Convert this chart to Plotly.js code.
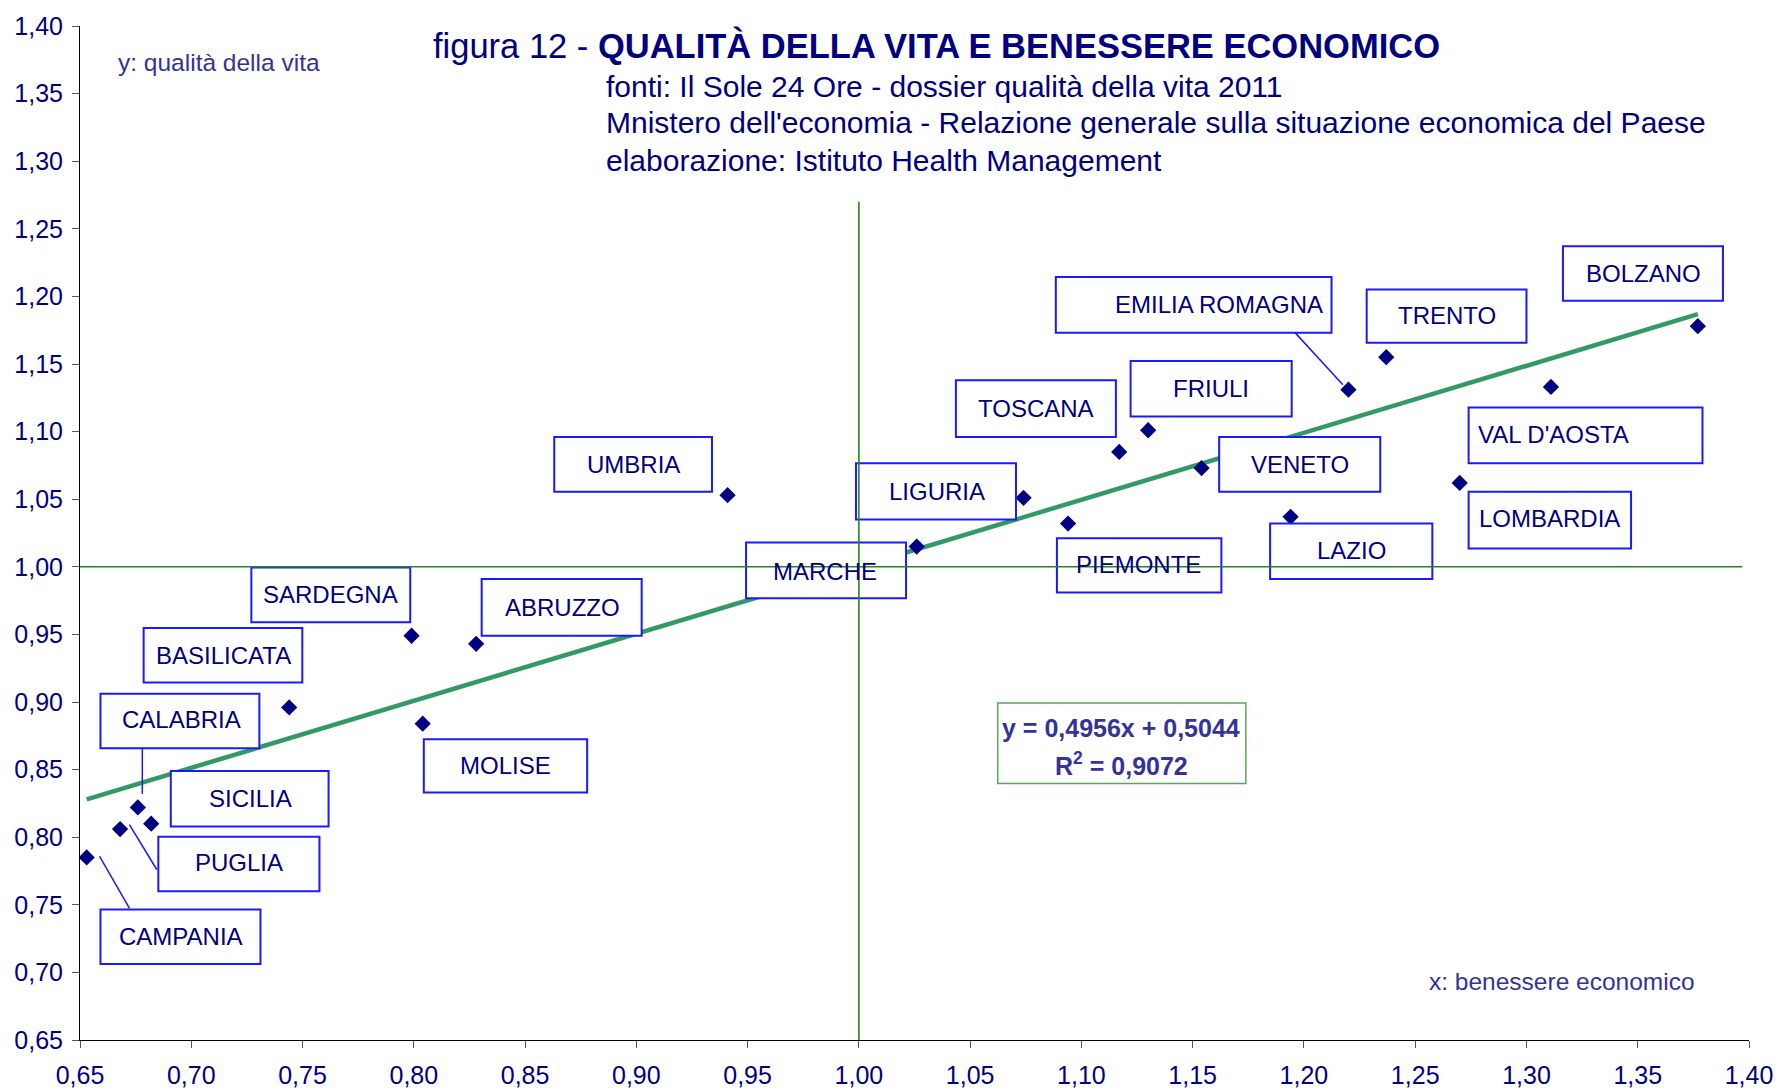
<!DOCTYPE html>
<html><head><meta charset="utf-8">
<script src="https://cdn.plot.ly/plotly-3.0.1.min.js"></script>
<style>html,body{margin:0;padding:0;background:#fff}#chart{width:1779px;height:1089px}</style>
</head><body><div id="chart"></div>
<script>
// ---------- data ----------
const regions = ["CAMPANIA","PUGLIA","CALABRIA","SICILIA","BASILICATA","SARDEGNA","MOLISE","ABRUZZO","UMBRIA","MARCHE","LIGURIA","PIEMONTE","TOSCANA","FRIULI","VENETO","LAZIO","EMILIA ROMAGNA","TRENTO","LOMBARDIA","VAL D'AOSTA","BOLZANO"];
const benessere = [0.653,0.668,0.676,0.682,0.744,0.799,0.804,0.828,0.941,1.026,1.074,1.094,1.117,1.130,1.154,1.194,1.220,1.237,1.270,1.311,1.377];
const qualita   = [0.785,0.806,0.822,0.810,0.896,0.949,0.884,0.943,1.053,1.015,1.051,1.032,1.085,1.101,1.073,1.037,1.131,1.155,1.062,1.133,1.178];
const trendSlope = 0.4956;
const trendIntercept = 0.5044;
const trendR2 = "0,9072";
const tickValues = [0.65,0.70,0.75,0.80,0.85,0.90,0.95,1.00,1.05,1.10,1.15,1.20,1.25,1.30,1.35,1.40];
const tickLabels = ["0,65","0,70","0,75","0,80","0,85","0,90","0,95","1,00","1,05","1,10","1,15","1,20","1,25","1,30","1,35","1,40"];
const referenceValue = 1.00;

// ---------- label layout (data units) ----------
const labelLayout = {
  "CAMPANIA":      {box:[0.6592,0.7311,0.7062,0.7465], text:[0.6954,0.7264]},
  "PUGLIA":        {box:[0.6852,0.7576,0.7600,0.8003], text:[0.7214,0.7810]},
  "CALABRIA":      {box:[0.6592,0.7306,0.8658,0.9061], text:[0.6954,0.8868]},
  "SICILIA":       {box:[0.6908,0.7617,0.8079,0.8490], text:[0.7265,0.8289]},
  "BASILICATA":    {box:[0.6786,0.7499,0.9145,0.9548], text:[0.7147,0.9347]},
  "SARDEGNA":      {box:[0.7270,0.7984,0.9590,0.9994], text:[0.7627,0.9792]},
  "MOLISE":        {box:[0.8045,0.8779,0.8331,0.8725], text:[0.8412,0.8532]},
  "ABRUZZO":       {box:[0.8305,0.9024,0.9490,0.9910], text:[0.8667,0.9700]},
  "UMBRIA":        {box:[0.8631,0.9340,1.0556,1.0960], text:[0.8988,1.0758]},
  "MARCHE":        {box:[0.9493,1.0212,0.9767,1.0180], text:[0.9850,0.9968]},
  "LIGURIA":       {box:[0.9987,1.0706,1.0350,1.0766], text:[1.0349,1.0556]},
  "PIEMONTE":      {box:[1.0890,1.1629,0.9809,1.0212], text:[1.1257,1.0019]},
  "TOSCANA":       {box:[1.0436,1.1155,1.0960,1.1379], text:[1.0798,1.1170]},
  "FRIULI":        {box:[1.1221,1.1945,1.1111,1.1522], text:[1.1583,1.1321]},
  "VENETO":        {box:[1.1619,1.2343,1.0556,1.0960], text:[1.1981,1.0758]},
  "LAZIO":         {box:[1.1848,1.2577,0.9910,1.0321], text:[1.2215,1.0120]},
  "EMILIA ROMAGNA":{box:[1.0885,1.2124,1.1732,1.2144], text:[1.1619,1.1942]},
  "TRENTO":        {box:[1.2282,1.3000,1.1657,1.2051], text:[1.2644,1.1858]},
  "LOMBARDIA":     {box:[1.2740,1.3470,1.0136,1.0556], text:[1.3102,1.0355]},
  "VAL D'AOSTA":   {box:[1.2740,1.3791,1.0766,1.1178], text:[1.3123,1.0976]},
  "BOLZANO":       {box:[1.3164,1.3883,1.1967,1.2371], text:[1.3526,1.2169]}
};
const leaderLines = [
  [0.6780,0.8658,0.6780,0.8320],
  [0.6722,0.8093,0.6845,0.7761],
  [0.6588,0.7858,0.6722,0.7476],
  [1.1960,1.1732,1.2175,1.1346]
];

// ---------- styles ----------
const FONT = "Liberation Sans, Arial, Helvetica, sans-serif";
const NAVY = "#000080";
const PURPLE = "#333399";
const BOXBLUE = "#1a1aff";
const REFGREEN = "#1f8a1f";

const xMin = Math.min(...benessere), xMax = Math.max(...benessere);
const trendX = [xMin, xMax];
const trendY = trendX.map(x => trendSlope * x + trendIntercept);

const traces = [
  {x: trendX, y: trendY, mode: "lines", type: "scatter",
   line: {color: "#339966", width: 4.5}, hoverinfo: "skip", showlegend: false},
  {x: benessere, y: qualita, text: regions, mode: "markers", type: "scatter",
   marker: {symbol: "diamond", size: 12.5, color: NAVY}, showlegend: false}
];

const shapes = [];
const annotations = [];
regions.forEach(r => {
  const L = labelLayout[r];
  shapes.push({type: "rect", xref: "x", yref: "y", layer: "above",
    x0: L.box[0], x1: L.box[1], y0: L.box[2], y1: L.box[3],
    fillcolor: "#ffffff", line: {color: BOXBLUE, width: 2}});
  annotations.push({xref: "x", yref: "y", x: L.text[0], y: L.text[1], text: r,
    showarrow: false, xanchor: "center", yanchor: "middle",
    font: {family: FONT, size: 24, color: NAVY}});
});
leaderLines.forEach(l => shapes.push({type: "line", xref: "x", yref: "y", layer: "above",
  x0: l[0], y0: l[1], x1: l[2], y1: l[3], line: {color: BOXBLUE, width: 1.5}}));
// reference lines (above the boxes)
shapes.push({type: "line", xref: "x", yref: "y", layer: "above",
  x0: 0.65, x1: 1.397, y0: referenceValue, y1: referenceValue, line: {color: REFGREEN, width: 1.6}});
shapes.push({type: "line", xref: "x", yref: "y", layer: "above",
  x0: referenceValue, x1: referenceValue, y0: 0.65, y1: 1.27, line: {color: REFGREEN, width: 1.6}});
// regression box
shapes.push({type: "rect", xref: "x", yref: "y", layer: "above",
  x0: 1.0624, x1: 1.1739, y0: 0.8397, y1: 0.8993,
  fillcolor: "rgba(255,255,255,0)", line: {color: "#55aa55", width: 1.5}});
annotations.push({xref: "x", yref: "y", x: 1.1178, y: 0.8811, showarrow: false,
  text: "<b>y = " + String(trendSlope).replace(".", ",") + "x + " + String(trendIntercept).replace(".", ",") + "</b>",
  font: {family: FONT, size: 25, color: PURPLE}});
annotations.push({xref: "x", yref: "y", x: 1.1178, y: 0.8545, showarrow: false,
  text: "<b>R<sup>2</sup> = " + trendR2 + "</b>",
  font: {family: FONT, size: 25, color: PURPLE}});

// titles
annotations.push({xref: "paper", yref: "paper", x: 0.2103, y: 0.9803, xanchor: "left", yanchor: "middle",
  showarrow: false, text: "figura 12 - <b>QUALITÀ DELLA VITA E BENESSERE ECONOMICO</b>",
  font: {family: FONT, size: 34.5, color: NAVY}});
const subLines = ["fonti: Il Sole 24 Ore - dossier qualità della vita 2011",
  "Mnistero dell'economia - Relazione generale sulla situazione economica del Paese",
  "elaborazione: Istituto Health Management"];
const subY = [0.9406, 0.9048, 0.8678];
subLines.forEach((t, i) => annotations.push({xref: "paper", yref: "paper", x: 0.3140, y: subY[i],
  xanchor: "left", yanchor: "middle", showarrow: false, text: t,
  font: {family: FONT, size: 30, color: NAVY}}));
annotations.push({xref: "paper", yref: "paper", x: 0.0215, y: 0.9641, xanchor: "left", yanchor: "middle",
  showarrow: false, text: "y: qualità della vita", font: {family: FONT, size: 24.5, color: PURPLE}});
annotations.push({xref: "paper", yref: "paper", x: 0.8072, y: 0.0575, xanchor: "left", yanchor: "middle",
  showarrow: false, text: "x: benessere economico", font: {family: FONT, size: 24.5, color: PURPLE}});

const axisCommon = {
  range: [0.65, 1.40], tickvals: tickValues, ticktext: tickLabels,
  showgrid: false, zeroline: false, showline: true, linecolor: "#000", linewidth: 1,
  ticks: "outside", ticklen: 7, tickwidth: 1, tickcolor: "#555",
  tickfont: {family: FONT, size: 25, color: NAVY}, fixedrange: true
};

const layout = {
  width: 1779, height: 1089,
  margin: {l: 80, r: 29.7, t: 26, b: 49.3},
  paper_bgcolor: "#ffffff", plot_bgcolor: "#ffffff",
  xaxis: Object.assign({}, axisCommon, {ticklabelstandoff: 6}),
  yaxis: Object.assign({}, axisCommon, {ticklabelstandoff: 4}),
  shapes: shapes, annotations: annotations, showlegend: false
};

Plotly.newPlot("chart", traces, layout, {displayModeBar: false, staticPlot: true});
</script></body></html>
